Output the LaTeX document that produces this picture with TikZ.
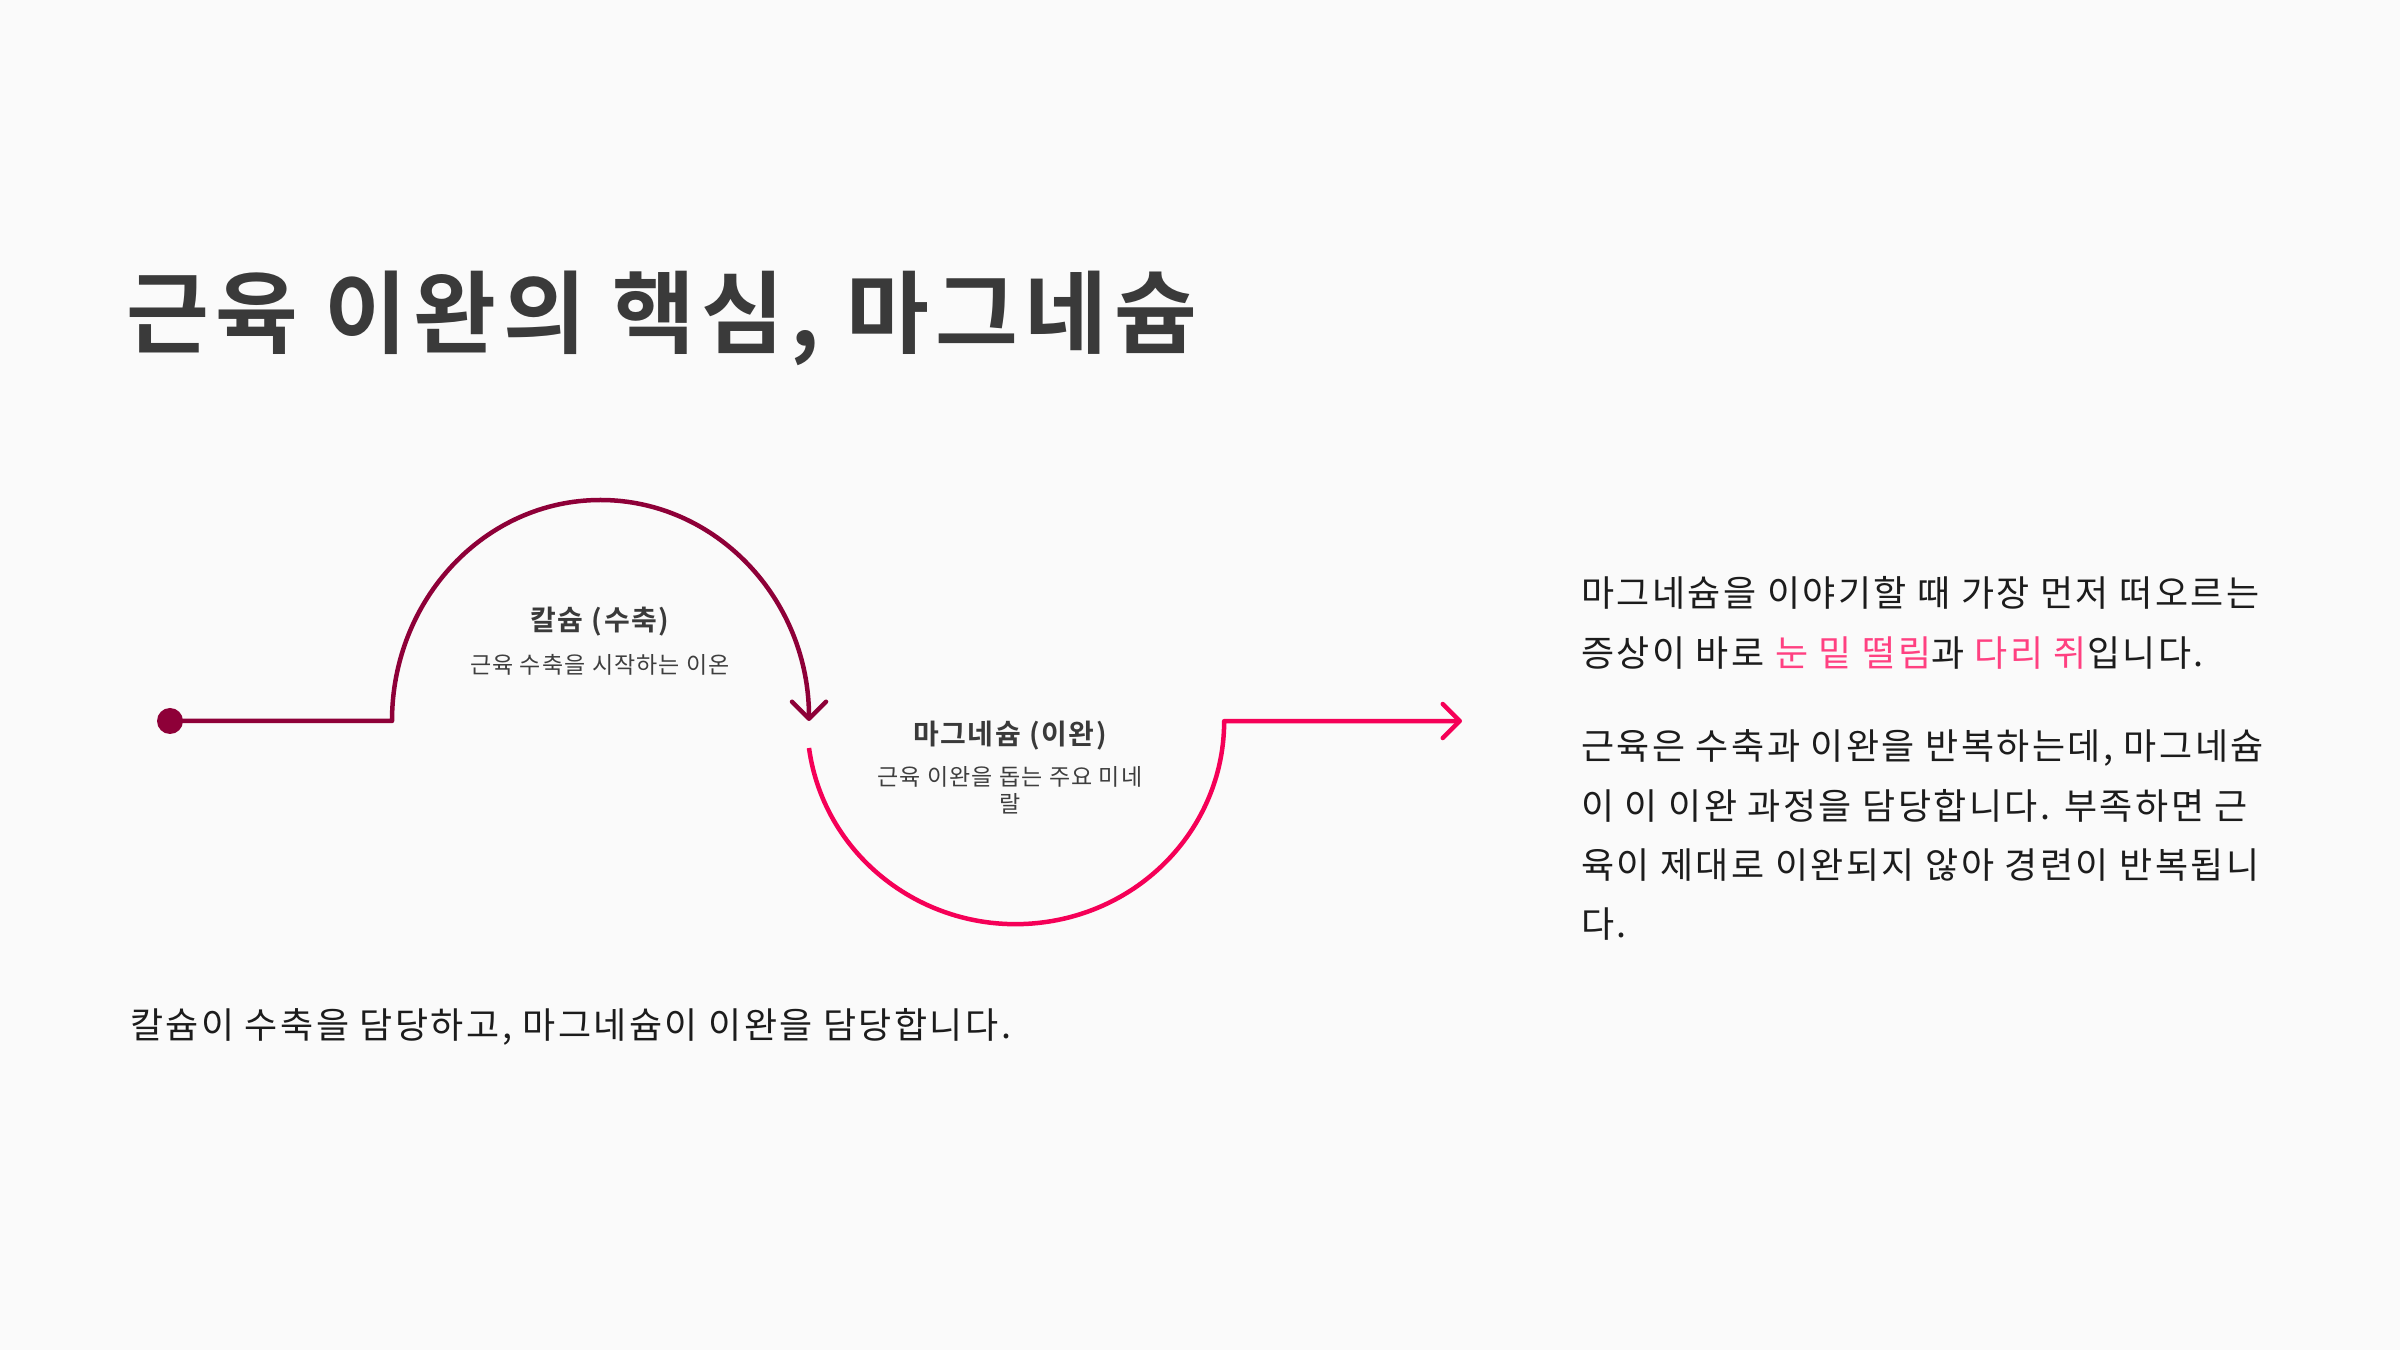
\documentclass[tikz,border=0pt]{standalone}
\usepackage{fontspec}
\setmainfont{Noto Sans CJK KR}[BoldFont={Noto Sans CJK KR Bold}]
\usetikzlibrary{arrows.meta}
\definecolor{bg}{HTML}{FAFAFA}
\definecolor{maroonc}{HTML}{8E0038}
\definecolor{hotpink}{HTML}{F50057}
\definecolor{pinktext}{HTML}{FF4081}
\definecolor{titlegray}{HTML}{3A3A3A}
\definecolor{bodyblack}{HTML}{1C1C1C}
\begin{document}
\begin{tikzpicture}[x=1pt,y=1pt,
  curve/.style={line width=4.5pt, line join=round},
  barb/.style={-{Straight Barb[length=17pt,width=34pt,round]}},
  txt/.style={inner sep=0pt, anchor=base west},
  ctxt/.style={inner sep=0pt, anchor=base},
  titlefont/.style={font=\fontsize{90}{100}\selectfont\bfseries\addfontfeatures{LetterSpace=7}, text=titlegray},
  labelfont/.style={font=\fontsize{28}{34}\selectfont\bfseries\addfontfeatures{LetterSpace=6}, text=titlegray},
  subfont/.style={font=\fontsize{23}{27}\selectfont\addfontfeatures{LetterSpace=5}, text=bodyblack!85},
  bodyfont/.style={font=\fontsize{36}{60}\selectfont\addfontfeatures{LetterSpace=6.8}, text=bodyblack}]
\fill[bg] (0,0) rectangle (2400,1350);
\useasboundingbox (0,0) rectangle (2400,1350);

% title
\node[txt, titlefont] (title) at (126,1003) {근육 이완의 핵심, 마그네슘};

% path coordinates
\coordinate (start) at (170,629);
\coordinate (k1) at (392,629);
\coordinate (k2) at (809,602);
\coordinate (k3) at (1226,629);
\coordinate (endp) at (1462,629);

% first (calcium) curve
\fill[maroonc] (start) circle[radius=13];
\draw[curve, maroonc, barb] (start) -- (k1) arc[start angle=180, end angle=0, x radius=208.5, y radius=221];

% second (magnesium) curve
\draw[curve, hotpink, barb] (k2) arc[start angle=187.6, end angle=360, x radius=208.5, y radius=203] -- (endp);

% labels
\node[ctxt, labelfont] (ca) at (600,719) {칼슘 (수축)};
\node[ctxt, subfont] (casub) at (600,676) {근육 수축을 시작하는 이온};
\node[ctxt, labelfont] (mg) at (1010,605) {마그네슘 (이완)};
\node[ctxt, subfont] (mgsub1) at (1010,564) {근육 이완을 돕는 주요 미네};
\node[ctxt, subfont] (mgsub2) at (1010,537) {랄};

% bottom sentence
\node[txt, bodyfont] (bottom) at (130,312) {칼슘이 수축을 담당하고, 마그네슘이 이완을 담당합니다.};

% right paragraphs
\node[txt, bodyfont] (p1a) at (1581,743) {마그네슘을 이야기할 때 가장 먼저 떠오르는};
\node[txt, bodyfont] (p1b) at (1581,683) {증상이 바로 {\color{pinktext}눈 밑 떨림}과 {\color{pinktext}다리 쥐}입니다.};
\node[txt, bodyfont] (p2a) at (1581,590) {근육은 수축과 이완을 반복하는데, 마그네슘};
\node[txt, bodyfont] (p2b) at (1581,530) {이 이 이완 과정을 담당합니다. 부족하면 근};
\node[txt, bodyfont] (p2c) at (1581,471) {육이 제대로 이완되지 않아 경련이 반복됩니};
\node[txt, bodyfont] (p2d) at (1581,412) {다.};
\end{tikzpicture}
\end{document}
